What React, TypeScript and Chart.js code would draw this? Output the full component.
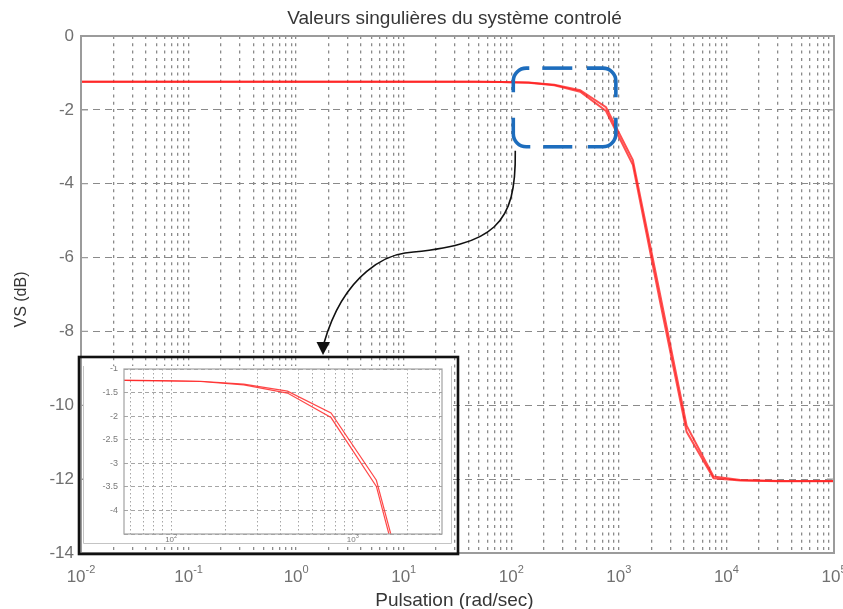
import { useEffect, useRef } from 'react';
import { Chart, registerables } from 'chart.js';

Chart.register(...registerables);

// Pulsation (rad/s) and the two singular values (dB) of the controlled loop
const pulsations = [0.01, 0.1, 1, 10, 46, 81, 145, 251, 437, 759, 1349, 2399, 4266, 7586, 13490, 31620, 100000];
const sigmaHigh = [-1.24, -1.24, -1.24, -1.24, -1.24, -1.245, -1.26, -1.32, -1.47, -1.93, -3.36, -6.95, -10.55, -11.93, -12.02, -12.05, -12.05];
const sigmaLow = [-1.24, -1.24, -1.24, -1.24, -1.24, -1.245, -1.265, -1.335, -1.51, -2.03, -3.49, -7.15, -10.72, -11.98, -12.04, -12.06, -12.06];

// Axis ticks
const mainYTicks = [0, -2, -4, -6, -8, -10, -12, -14];
const mainDecades = [-2, -1, 0, 1, 2, 3, 4, 5];
const insetYTicks = [-1, -1.5, -2, -2.5, -3, -3.5, -4];
const insetDecades = [2, 3];

// Texts
const titleText = 'Valeurs singulières du système controlé';
const xTitleText = 'Pulsation (rad/sec)';
const yTitleText = 'VS (dB)';

const FONT = '"Liberation Sans", Arial, Helvetica, sans-serif';

// Grid positions of a log axis: 1..9 x 10^k inside [min, max]
function logGrid(min: number, max: number) {
  const out: { value: number }[] = [];
  const e0 = Math.floor(Math.log10(min) + 1e-9);
  const e1 = Math.ceil(Math.log10(max) - 1e-9);
  for (let e = e0; e <= e1; e++) {
    for (let m = 1; m <= 9; m++) {
      const v = m * Math.pow(10, e);
      if (v >= min * 0.9999 && v <= max * 1.0001) out.push({ value: v });
    }
  }
  return out;
}

const toPoints = (vals: number[]) => pulsations.map((w, i) => ({ x: w, y: vals[i] }));

// "10" followed by a raised exponent, centred on x
function drawPower(ctx: CanvasRenderingContext2D, x: number, y: number, exp: number, baseSize: number, supSize: number, color: string) {
  const base = '10';
  const sup = String(exp);
  ctx.font = `${baseSize}px ${FONT}`;
  const wb = ctx.measureText(base).width;
  ctx.font = `${supSize}px ${FONT}`;
  const ws = ctx.measureText(sup).width;
  const left = x - (wb + ws) / 2;
  ctx.fillStyle = color;
  ctx.textAlign = 'left';
  ctx.textBaseline = 'alphabetic';
  ctx.font = `${baseSize}px ${FONT}`;
  ctx.fillText(base, left, y);
  ctx.font = `${supSize}px ${FONT}`;
  ctx.fillText(sup, left + wb, y - baseSize * 0.55);
}

const mainDecor = {
  id: 'mainDecor',
  afterDraw(chart: any) {
    const { ctx, chartArea: a, scales } = chart;
    const xs = scales.x;
    const ys = scales.y;
    ctx.save();

    // axes box
    ctx.strokeStyle = '#9b9b9b';
    ctx.lineWidth = 2;
    ctx.setLineDash([]);
    ctx.strokeRect(a.left, a.top, a.right - a.left, a.bottom - a.top);

    // inward tick marks on both vertical sides
    ctx.lineWidth = 1.2;
    mainYTicks.forEach((v) => {
      const py = ys.getPixelForValue(v);
      ctx.beginPath();
      ctx.moveTo(a.left, py);
      ctx.lineTo(a.left + 7, py);
      ctx.moveTo(a.right, py);
      ctx.lineTo(a.right - 7, py);
      ctx.stroke();
    });

    // tick labels
    ctx.fillStyle = '#707070';
    ctx.font = `17px ${FONT}`;
    ctx.textAlign = 'right';
    ctx.textBaseline = 'middle';
    mainYTicks.forEach((v) => ctx.fillText(String(v), a.left - 7, ys.getPixelForValue(v)));
    mainDecades.forEach((e) => drawPower(ctx, xs.getPixelForValue(Math.pow(10, e)), a.bottom + 29, e, 17, 11, '#707070'));

    // titles
    const cx = (a.left + a.right) / 2 - 3;
    ctx.fillStyle = '#363636';
    ctx.textAlign = 'center';
    ctx.textBaseline = 'alphabetic';
    ctx.font = `19px ${FONT}`;
    ctx.fillText(titleText, cx, 24);
    ctx.font = `19px ${FONT}`;
    ctx.fillText(xTitleText, cx, 606);
    ctx.save();
    ctx.translate(22, (a.top + a.bottom) / 2 + 5);
    ctx.rotate(-Math.PI / 2);
    ctx.textBaseline = 'middle';
    ctx.font = `16px ${FONT}`;
    ctx.fillText(yTitleText, 0, 0);
    ctx.restore();

    // zoom window backdrop (the zoomed axes are drawn on their own canvas)
    const iL = 79, iT = 357, iR = 458, iB = a.bottom + 1;
    ctx.fillStyle = '#ffffff';
    ctx.fillRect(83, 366, 369, 177);
    ctx.strokeStyle = '#c4c4c4';
    ctx.lineWidth = 1;
    ctx.beginPath();
    ctx.moveTo(83.5, 366);
    ctx.lineTo(83.5, 543.5);
    ctx.lineTo(451.5, 543.5);
    ctx.lineTo(451.5, 366);
    ctx.stroke();
    ctx.strokeStyle = '#111111';
    ctx.lineWidth = 2.6;
    ctx.strokeRect(iL, iT, iR - iL, iB - iT);

    // dashed rounded frame around the knee of the curve
    const L = xs.getPixelForValue(100) + 2;
    const R = xs.getPixelForValue(1000) - 3;
    const T = ys.getPixelForValue(-0.87);
    const B = ys.getPixelForValue(-3.0);
    const r = 13;
    ctx.strokeStyle = '#1d6dbd';
    ctx.lineWidth = 3.6;
    ctx.lineCap = 'butt';
    const piece = (fn: () => void) => { ctx.beginPath(); fn(); ctx.stroke(); };
    piece(() => { ctx.moveTo(L, T + 24); ctx.lineTo(L, T + r); ctx.arcTo(L, T, L + r, T, r); ctx.lineTo(L + 16, T); });
    piece(() => { ctx.moveTo(L + 29, T); ctx.lineTo(L + 59, T); });
    piece(() => { ctx.moveTo(R - 29, T); ctx.lineTo(R - r, T); ctx.arcTo(R, T, R, T + r, r); ctx.lineTo(R, T + 29); });
    piece(() => { ctx.moveTo(R, B - 29); ctx.lineTo(R, B - r); ctx.arcTo(R, B, R - r, B, r); ctx.lineTo(R - 28, B); });
    piece(() => { ctx.moveTo(L + 59, B); ctx.lineTo(L + 30, B); });
    piece(() => { ctx.moveTo(L + 17, B); ctx.lineTo(L + r, B); ctx.arcTo(L, B, L, B - r, r); ctx.lineTo(L, B - 29); });

    // curved arrow towards the zoom window
    ctx.strokeStyle = '#111111';
    ctx.fillStyle = '#111111';
    ctx.lineWidth = 1.6;
    ctx.beginPath();
    ctx.moveTo(L + 2, B + 4);
    ctx.bezierCurveTo(L + 3, 225, 495, 245, 405, 253);
    ctx.bezierCurveTo(390, 255, 345, 270, 324, 343);
    ctx.stroke();
    ctx.beginPath();
    ctx.moveTo(316.5, 342);
    ctx.lineTo(330, 342);
    ctx.lineTo(323, 355);
    ctx.closePath();
    ctx.fill();

    ctx.restore();
  },
};

const insetDecor = {
  id: 'insetDecor',
  afterDraw(chart: any) {
    const { ctx, chartArea: a, scales } = chart;
    ctx.save();
    ctx.setLineDash([]);
    ctx.strokeStyle = '#a2a2a2';
    ctx.lineWidth = 1.2;
    ctx.strokeRect(a.left, a.top, a.right - a.left, a.bottom - a.top);
    ctx.fillStyle = '#7a7a7a';
    ctx.font = `9px ${FONT}`;
    ctx.textAlign = 'right';
    ctx.textBaseline = 'middle';
    insetYTicks.forEach((v) => ctx.fillText(String(v), a.left - 6, scales.y.getPixelForValue(v)));
    insetDecades.forEach((e) => drawPower(ctx, scales.x.getPixelForValue(Math.pow(10, e)), a.bottom + 8, e, 8, 5.5, '#7a7a7a'));
    ctx.restore();
  },
};

export default function App() {
  const mainRef = useRef<HTMLCanvasElement>(null);
  const insetRef = useRef<HTMLCanvasElement>(null);

  useEffect(() => {
    document.body.style.margin = '0';
    document.documentElement.style.overflow = 'hidden';

    const main = new Chart(mainRef.current as HTMLCanvasElement, {
      type: 'line',
      data: {
        datasets: [
          { label: 'σ1', data: toPoints(sigmaHigh), borderColor: 'rgba(255,30,30,0.78)', borderWidth: 2, pointRadius: 0, tension: 0 },
          { label: 'σ2', data: toPoints(sigmaLow), borderColor: 'rgba(255,30,30,0.78)', borderWidth: 2, pointRadius: 0, tension: 0 },
        ],
      },
      options: {
        animation: false,
        responsive: false,
        maintainAspectRatio: false,
        layout: { padding: { left: 81, right: 9, top: 36, bottom: 56 } },
        plugins: { legend: { display: false }, tooltip: { enabled: false }, title: { display: false } },
        scales: {
          x: {
            type: 'logarithmic',
            min: 0.01,
            max: 100000,
            afterBuildTicks: (scale: any) => { scale.ticks = logGrid(scale.min, scale.max); },
            ticks: { display: false, autoSkip: false },
            grid: { color: '#8a8a8a', lineWidth: 1.3, drawTicks: false },
            border: { display: false, dash: [3, 4.3] },
          },
          y: {
            type: 'linear',
            min: -14,
            max: 0,
            ticks: { display: false, stepSize: 2 },
            grid: { color: '#8a8a8a', lineWidth: 1, drawTicks: false },
            border: { display: false, dash: [7, 5] },
          },
        },
      },
      plugins: [mainDecor],
    } as any);

    const inset = new Chart(insetRef.current as HTMLCanvasElement, {
      type: 'line',
      data: {
        datasets: [
          { label: 'σ1', data: toPoints(sigmaHigh), borderColor: 'rgba(255,40,40,0.85)', borderWidth: 1.2, pointRadius: 0, tension: 0 },
          { label: 'σ2', data: toPoints(sigmaLow), borderColor: 'rgba(255,40,40,0.85)', borderWidth: 1.2, pointRadius: 0, tension: 0 },
        ],
      },
      options: {
        animation: false,
        responsive: false,
        maintainAspectRatio: false,
        layout: { padding: { left: 41, right: 10, top: 3, bottom: 10 } },
        plugins: { legend: { display: false }, tooltip: { enabled: false }, title: { display: false } },
        scales: {
          x: {
            type: 'logarithmic',
            min: 55,
            max: 3100,
            afterBuildTicks: (scale: any) => { scale.ticks = logGrid(scale.min, scale.max); },
            ticks: { display: false, autoSkip: false },
            grid: { color: '#a6a6a6', lineWidth: 1, drawTicks: false },
            border: { display: false, dash: [1.5, 2.5] },
          },
          y: {
            type: 'linear',
            min: -4.5,
            max: -1,
            ticks: { display: false, stepSize: 0.5 },
            grid: { color: '#a6a6a6', lineWidth: 1, drawTicks: false },
            border: { display: false, dash: [4, 3] },
          },
        },
      },
      plugins: [insetDecor],
    } as any);

    return () => {
      main.destroy();
      inset.destroy();
    };
  }, []);

  return (
    <div style={{ position: 'relative', width: 843, height: 609, background: '#ffffff', overflow: 'hidden' }}>
      <canvas ref={mainRef} width={843} height={609} style={{ position: 'absolute', left: 0, top: 0, width: 843, height: 609 }} />
      <canvas ref={insetRef} width={369} height={178} style={{ position: 'absolute', left: 83, top: 366, width: 369, height: 178 }} />
    </div>
  );
}
